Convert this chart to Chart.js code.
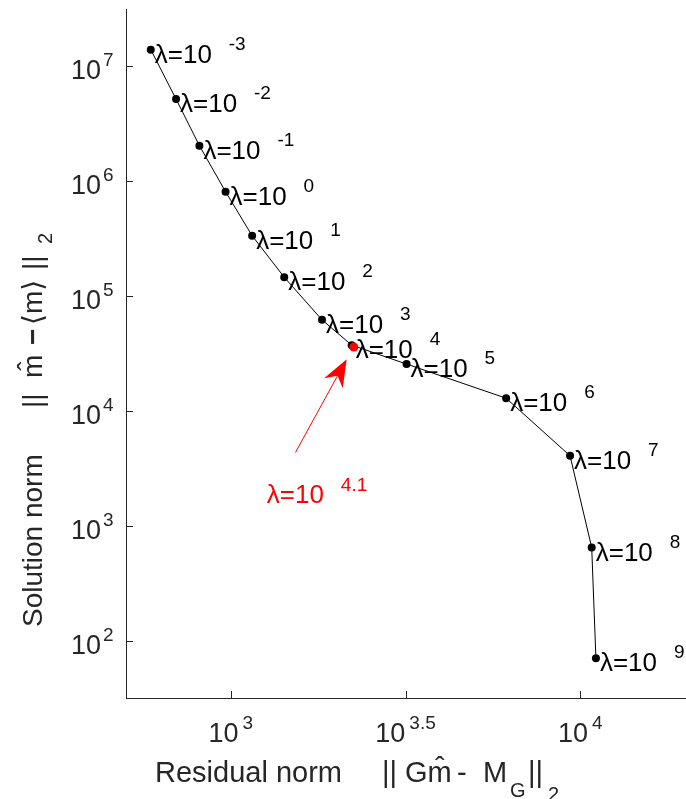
<!DOCTYPE html>
<html>
<head>
<meta charset="utf-8">
<script src="https://cdn.jsdelivr.net/npm/chart.js@4"></script>
<style>
  html, body { margin: 0; padding: 0; background: #fff; }
  #wrap { width: 686px; height: 799px; position: relative; }
</style>
</head>
<body>
<div id="wrap"><canvas id="lcurve"></canvas></div>
<script>
// L-curve: one point per regularisation parameter lambda = 10^exponent
const exponents = [-3, -2, -1, 0, 1, 2, 3, 4, 5, 6, 7, 8, 9];
const residualNorm = [590, 697, 813, 966, 1151, 1422, 1824, 2218, 3184, 6138, 9354, 10789, 11092];
const solutionNorm = [1.40e7, 5.20e6, 2.04e6, 8.11e5, 3.35e5, 1.46e5, 6.21e4, 3.74e4, 2.56e4, 1.29e4, 4064, 646, 70.3];

// the chosen lambda (corner of the curve)
const chosenExponent = '4.1';
const chosenResidual = [2249];
const chosenSolution = [3.60e4];

// tick labels are 10^power
const xTickPowers = [3, 3.5, 4];
const yTickPowers = [2, 3, 4, 5, 6, 7];

// annotation arrow + label, in data units
const arrowFrom = { x: 1531, y: 4345 };
const arrowTo = { x: 2146, y: 28249 };
const chosenLabelAt = { x: 1268, y: 1581 };

const FONT = '"Liberation Sans", Arial, "DejaVu Sans", sans-serif';
const AXIS = '#262626';

function pieces(ctx, list, color) {
  list.forEach(function(p) {
    ctx.font = (p.bold ? 'bold ' : '') + p.size + 'px ' + FONT;
    ctx.fillStyle = color;
    ctx.textAlign = p.align || 'left';
    ctx.fillText(p.s, p.dx || 0, p.dy || 0);
  });
}

const decor = {
  id: 'decor',
  afterDraw(chart) {
    const ctx = chart.ctx, xs = chart.scales.x, ys = chart.scales.y, a = chart.chartArea;
    ctx.save();
    ctx.textBaseline = 'alphabetic';

    // inward tick marks
    ctx.strokeStyle = AXIS;
    ctx.lineWidth = 1;
    yTickPowers.forEach(function(p) {
      const y = Math.round(ys.getPixelForValue(Math.pow(10, p))) + 0.5;
      ctx.beginPath(); ctx.moveTo(a.left, y); ctx.lineTo(a.left + 7, y); ctx.stroke();
    });
    xTickPowers.forEach(function(p) {
      const x = Math.round(xs.getPixelForValue(Math.pow(10, p))) + 0.5;
      ctx.beginPath(); ctx.moveTo(x, a.bottom); ctx.lineTo(x, a.bottom - 7); ctx.stroke();
    });

    // y tick labels
    yTickPowers.forEach(function(p) {
      const y = ys.getPixelForValue(Math.pow(10, p));
      ctx.save();
      ctx.translate(a.left - 25, y);
      pieces(ctx, [
        { s: '10', size: 27, dy: 13, align: 'right' },
        { s: String(p), size: 19, dx: 2, dy: 0 }
      ], AXIS);
      ctx.restore();
    });

    // x tick labels, centred on the tick
    xTickPowers.forEach(function(p) {
      const x = xs.getPixelForValue(Math.pow(10, p));
      ctx.font = '27px ' + FONT;
      const w1 = ctx.measureText('10').width;
      ctx.font = '19px ' + FONT;
      const w2 = ctx.measureText(String(p)).width;
      ctx.save();
      ctx.translate(x - (w1 + 4 + w2) / 2, a.bottom + 44);
      pieces(ctx, [
        { s: '10', size: 27 },
        { s: String(p), size: 19, dx: w1 + 4, dy: -13 }
      ], AXIS);
      ctx.restore();
    });

    // x title
    ctx.save();
    ctx.translate(155, 782);
    pieces(ctx, [
      { s: 'Residual norm', size: 29 },
      { s: '||', size: 29, dx: 227 },
      { s: 'Gm\u0302', size: 29, dx: 250 },
      { s: '-', size: 29, dx: 302 },
      { s: 'M', size: 29, dx: 328 },
      { s: 'G', size: 20, dx: 355, dy: 15 },
      { s: '||', size: 29, dx: 373 },
      { s: '2', size: 20, dx: 393, dy: 19 }
    ], AXIS);
    ctx.restore();

    // y title (rotated)
    ctx.save();
    ctx.translate(42, 627);
    ctx.rotate(-Math.PI / 2);
    pieces(ctx, [
      { s: 'Solution norm', size: 28 },
      { s: '||', size: 28, dx: 219 },
      { s: 'm\u0302', size: 28, dx: 249 },
      { s: '\u2212', size: 28, dx: 282, bold: true },
      { s: '\u27E8m\u27E9', size: 28, dx: 302 },
      { s: '||', size: 28, dx: 357 },
      { s: '2', size: 20, dx: 383, dy: 10 }
    ], AXIS);
    ctx.restore();

    // lambda labels next to every point
    exponents.forEach(function(e, i) {
      const px = xs.getPixelForValue(residualNorm[i]);
      const py = ys.getPixelForValue(solutionNorm[i]);
      ctx.save();
      ctx.translate(px + 4, py);
      pieces(ctx, [
        { s: '\u03BB=10', size: 26, dy: 13 },
        { s: String(e), size: 19, dx: 74, dy: 0 }
      ], '#000');
      ctx.restore();
    });

    // red arrow to the chosen point
    const x0 = xs.getPixelForValue(arrowFrom.x), y0 = ys.getPixelForValue(arrowFrom.y);
    const x1 = xs.getPixelForValue(arrowTo.x), y1 = ys.getPixelForValue(arrowTo.y);
    const len = Math.hypot(x1 - x0, y1 - y0);
    const ux = (x1 - x0) / len, uy = (y1 - y0) / len;
    const nx = -uy, ny = ux;
    ctx.strokeStyle = '#ff0000';
    ctx.fillStyle = '#ff0000';
    ctx.beginPath(); ctx.moveTo(x0, y0); ctx.lineTo(x1 - ux * 18, y1 - uy * 18); ctx.stroke();
    ctx.beginPath();
    ctx.moveTo(x1, y1);
    ctx.lineTo(x1 - ux * 27.5 + nx * 10.6, y1 - uy * 27.5 + ny * 10.6);
    ctx.lineTo(x1 - ux * 19, y1 - uy * 19);
    ctx.lineTo(x1 - ux * 27.5 - nx * 10.6, y1 - uy * 27.5 - ny * 10.6);
    ctx.closePath();
    ctx.fill();

    ctx.save();
    ctx.translate(xs.getPixelForValue(chosenLabelAt.x), ys.getPixelForValue(chosenLabelAt.y));
    pieces(ctx, [
      { s: '\u03BB=10', size: 26 },
      { s: chosenExponent, size: 19, dx: 74, dy: -12 }
    ], '#ff0000');
    ctx.restore();

    ctx.restore();
  }
};

const ctxCanvas = document.getElementById('lcurve');
new Chart(ctxCanvas, {
  type: 'scatter',
  data: {
    datasets: [{
      data: exponents.map(function(e, i) { return { x: residualNorm[i], y: solutionNorm[i] }; }),
      showLine: true,
      borderColor: '#000',
      borderWidth: 1,
      pointRadius: 4,
      pointBackgroundColor: '#000',
      pointBorderWidth: 0,
      order: 1
    }, {
      data: chosenResidual.map(function(r, i) { return { x: r, y: chosenSolution[i] }; }),
      showLine: false,
      pointRadius: 4.5,
      pointBackgroundColor: '#ff0000',
      pointBorderWidth: 0,
      order: 0
    }]
  },
  options: {
    responsive: true,
    maintainAspectRatio: false,
    animation: false,
    layout: { autoPadding: false, padding: { left: 126, top: 9, right: 1, bottom: 101 } },
    plugins: { legend: { display: false }, tooltip: { enabled: false } },
    scales: {
      x: {
        type: 'logarithmic',
        min: Math.pow(10, 2.7),
        max: Math.pow(10, 4.3),
        ticks: { display: false },
        grid: { display: false, drawTicks: false },
        border: { display: true, color: AXIS, width: 1 },
        afterFit: function(s) { s.height = 0; }
      },
      y: {
        type: 'logarithmic',
        min: Math.pow(10, 1.5),
        max: Math.pow(10, 7.5),
        ticks: { display: false },
        grid: { display: false, drawTicks: false },
        border: { display: true, color: AXIS, width: 1 },
        afterFit: function(s) { s.width = 0; }
      }
    }
  },
  plugins: [decor]
});
</script>
</body>
</html>
